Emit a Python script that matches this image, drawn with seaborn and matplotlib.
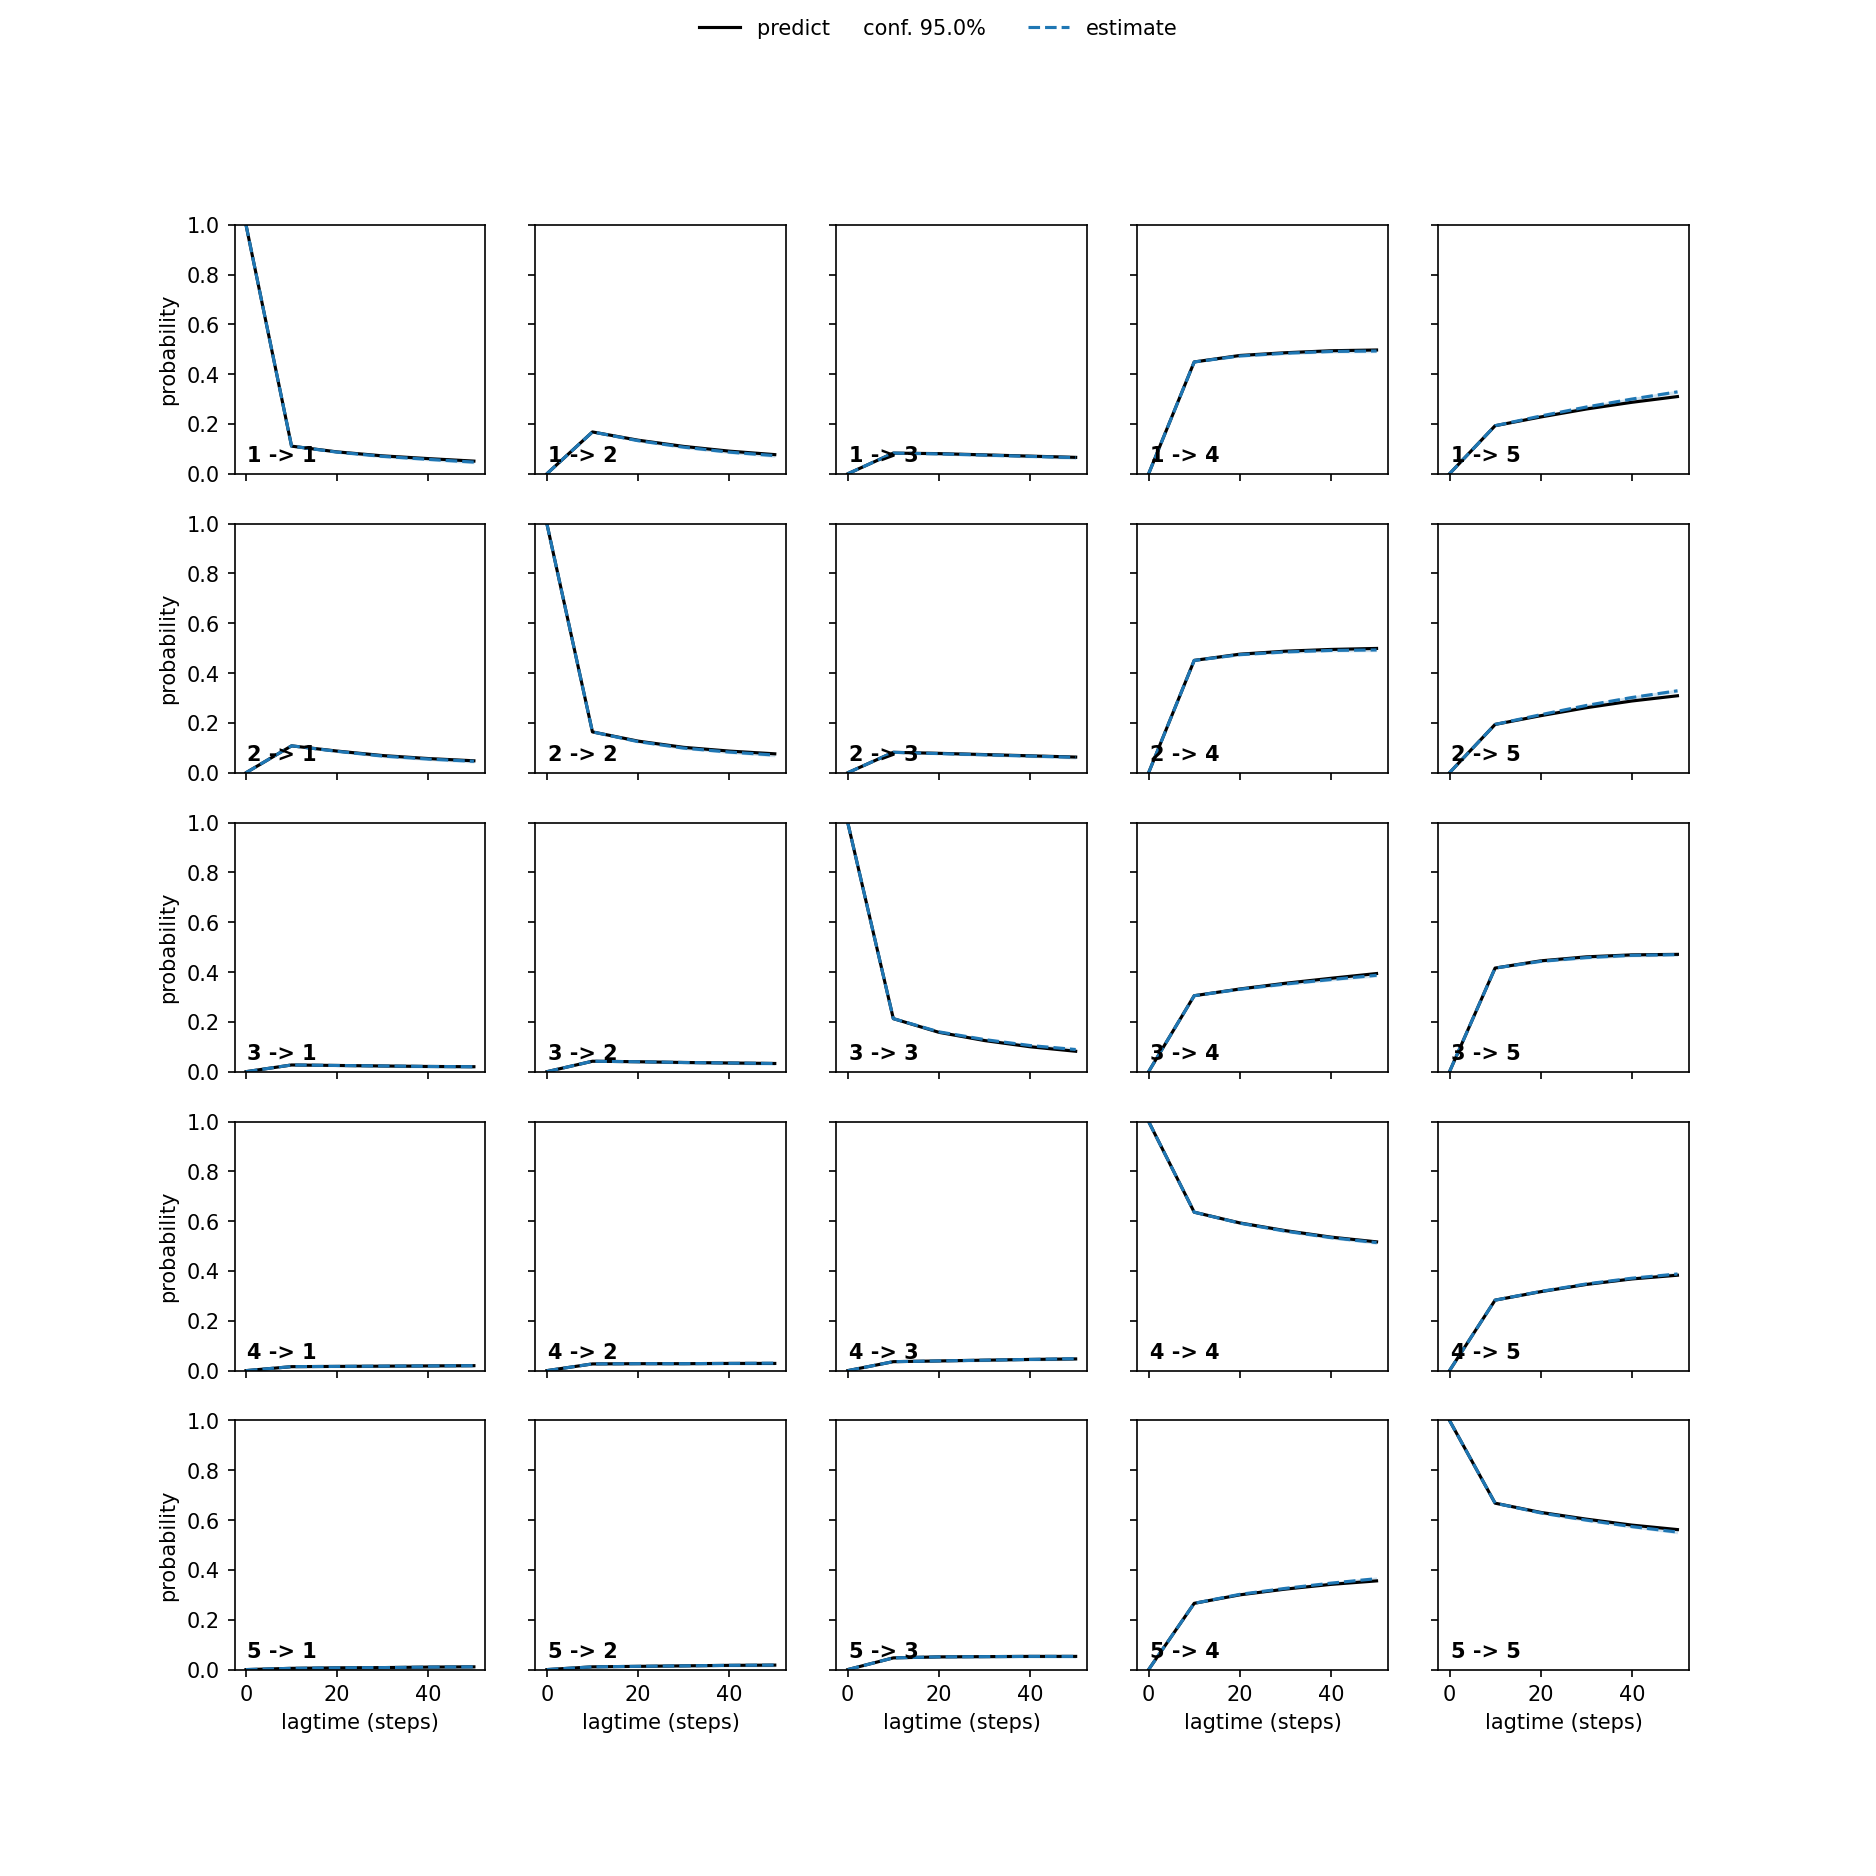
import matplotlib
matplotlib.use("Agg")
import matplotlib.pyplot as plt
import seaborn as sns
import numpy as np

# lag times (steps)
lags = [0, 10, 20, 30, 40, 50]
states = [1, 2, 3, 4, 5]

# predicted transition probabilities, one list per target state
pred_from1 = [[1, 0.111, 0.088, 0.072, 0.061, 0.051],
              [0, 0.168, 0.135, 0.110, 0.091, 0.077],
              [0, 0.083, 0.081, 0.076, 0.071, 0.066],
              [0, 0.449, 0.475, 0.486, 0.494, 0.497],
              [0, 0.193, 0.228, 0.260, 0.287, 0.310]]
pred_from2 = [[0, 0.108, 0.087, 0.069, 0.057, 0.048],
              [1, 0.164, 0.127, 0.102, 0.087, 0.076],
              [0, 0.082, 0.078, 0.073, 0.068, 0.063],
              [0, 0.451, 0.476, 0.488, 0.495, 0.499],
              [0, 0.194, 0.229, 0.261, 0.288, 0.309]]
pred_from3 = [[0, 0.027, 0.025, 0.023, 0.021, 0.020],
              [0, 0.042, 0.040, 0.037, 0.035, 0.033],
              [1, 0.213, 0.158, 0.125, 0.100, 0.082],
              [0, 0.305, 0.332, 0.355, 0.375, 0.394],
              [0, 0.416, 0.445, 0.461, 0.469, 0.471]]
pred_from4 = [[0, 0.016, 0.017, 0.018, 0.019, 0.020],
              [0, 0.027, 0.028, 0.028, 0.029, 0.029],
              [0, 0.036, 0.039, 0.042, 0.045, 0.047],
              [1, 0.636, 0.593, 0.562, 0.536, 0.517],
              [0, 0.283, 0.317, 0.346, 0.368, 0.383]]
pred_from5 = [[0, 0.005, 0.007, 0.008, 0.010, 0.011],
              [0, 0.011, 0.013, 0.015, 0.017, 0.018],
              [0, 0.047, 0.051, 0.052, 0.053, 0.053],
              [0, 0.266, 0.300, 0.323, 0.342, 0.356],
              [1, 0.668, 0.631, 0.604, 0.580, 0.562]]

# estimated transition probabilities
est_from1 = [[1, 0.111, 0.087, 0.070, 0.058, 0.047],
             [0, 0.168, 0.133, 0.107, 0.087, 0.073],
             [0, 0.083, 0.080, 0.075, 0.070, 0.065],
             [0, 0.449, 0.473, 0.484, 0.491, 0.493],
             [0, 0.193, 0.232, 0.268, 0.300, 0.329]]
est_from2 = [[0, 0.108, 0.086, 0.067, 0.055, 0.046],
             [1, 0.164, 0.125, 0.099, 0.083, 0.071],
             [0, 0.082, 0.077, 0.072, 0.067, 0.062],
             [0, 0.451, 0.474, 0.485, 0.491, 0.493],
             [0, 0.194, 0.233, 0.270, 0.302, 0.329]]
est_from3 = [[0, 0.027, 0.025, 0.023, 0.021, 0.020],
             [0, 0.042, 0.040, 0.037, 0.035, 0.033],
             [1, 0.213, 0.160, 0.129, 0.105, 0.089],
             [0, 0.305, 0.331, 0.352, 0.370, 0.387],
             [0, 0.416, 0.443, 0.458, 0.467, 0.470]]
est_from4 = [[0, 0.016, 0.017, 0.018, 0.019, 0.020],
             [0, 0.027, 0.028, 0.028, 0.029, 0.030],
             [0, 0.036, 0.039, 0.042, 0.045, 0.048],
             [1, 0.636, 0.592, 0.560, 0.534, 0.514],
             [0, 0.283, 0.318, 0.348, 0.371, 0.388]]
est_from5 = [[0, 0.005, 0.007, 0.008, 0.010, 0.011],
             [0, 0.011, 0.013, 0.015, 0.017, 0.018],
             [0, 0.047, 0.051, 0.052, 0.053, 0.053],
             [0, 0.266, 0.302, 0.326, 0.347, 0.365],
             [1, 0.668, 0.629, 0.600, 0.574, 0.552]]

# half width of the (narrow) 95% confidence band of the estimate
est_conf_half = [0, 0.004, 0.005, 0.006, 0.006, 0.007]
conf_level = 95.0

pred_all = [pred_from1, pred_from2, pred_from3, pred_from4, pred_from5]
est_all = [est_from1, est_from2, est_from3, est_from4, est_from5]

n = len(states)
fig, axes = plt.subplots(n, n, sharex=True, sharey=True, figsize=(12.51, 12.51))
blue = sns.color_palette()[0]

for i in range(n):
    for j in range(n):
        ax = axes[i, j]
        p = np.array(pred_all[i][j])
        e = np.array(est_all[i][j])
        h = np.array(est_conf_half)
        ax.fill_between(lags, e - h, e + h, color=blue, alpha=0.2, linewidth=0)
        sns.lineplot(x=lags, y=p, ax=ax, color='black', linewidth=1.5)
        sns.lineplot(x=lags, y=e, ax=ax, color=blue, linestyle='--', linewidth=1.5)
        ax.set_ylim(0, 1)
        ax.text(0.05, 0.05, f"{states[i]} -> {states[j]}", transform=ax.transAxes,
                weight='bold')
        ax.set_xlabel("lagtime (steps)" if i == n - 1 else "")
        ax.set_ylabel("probability" if j == 0 else "")

axes[0, 0].set_xticks([0, 20, 40])
axes[0, 0].set_yticks([0, 0.2, 0.4, 0.6, 0.8, 1.0])

lpred = axes[0, 0].lines[0]
lest = axes[0, 0].lines[1]
fig.legend((lpred, lest), ('predict     conf. {:3.1f}%'.format(conf_level), 'estimate'),
           loc='upper center', ncol=2, frameon=False)

fig.savefig("out.png", dpi=150)
